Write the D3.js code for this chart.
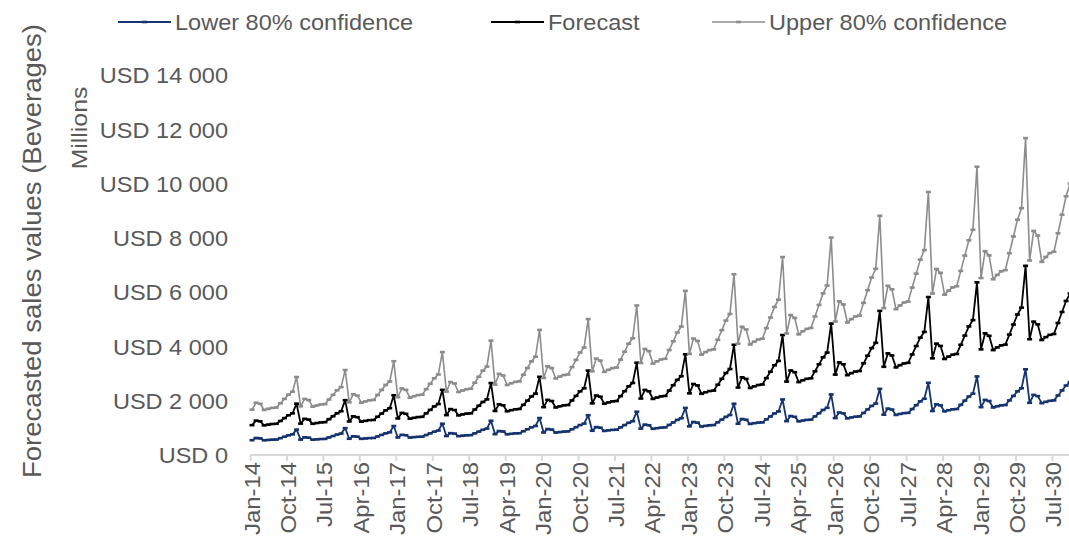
<!DOCTYPE html>
<html lang="en">
<head>
<meta charset="utf-8">
<title>Forecasted sales values (Beverages)</title>
<script src="https://d3js.org/d3.v7.min.js"></script>
<style>
  * { margin: 0; padding: 0; }
  body { background: #ffffff; width: 1069px; height: 539px; overflow: hidden; }
  svg text { font-family: "Liberation Sans", Arial, sans-serif; fill: #595959; }
</style>
</head>
<body>
<script>
// ---------- data (USD millions, monthly Jan-14 .. Dec-30) ----------
var seriesNames = ["Lower 80% confidence", "Forecast", "Upper 80% confidence"];

var lower = [
  545,627,614,541,554,565,569,621,673,724,760,936,
  567,653,639,563,577,588,592,646,700,754,791,990,
  599,691,676,595,610,622,627,683,740,797,836,1067,
  646,744,729,642,658,671,675,736,798,859,901,1152,
  699,805,789,694,712,726,731,797,863,930,975,1261,
  767,884,866,762,781,797,802,875,947,1020,1070,1362,
  830,957,937,825,845,862,868,947,1025,1104,1158,1465,
  893,1028,1007,886,908,926,933,1017,1102,1187,1245,1595,
  972,1119,1096,965,989,1009,1016,1108,1200,1293,1356,1733,
  1056,1216,1191,1049,1075,1096,1103,1204,1304,1404,1473,1888,
  1151,1326,1298,1143,1171,1194,1202,1312,1421,1530,1605,2046,
  1247,1436,1407,1238,1270,1294,1303,1422,1540,1659,1739,2231,
  1360,1566,1534,1350,1384,1411,1421,1550,1679,1808,1897,2437,
  1485,1711,1675,1475,1512,1542,1552,1693,1834,1976,2072,2660,
  1621,1867,1828,1609,1650,1682,1694,1848,2002,2155,2261,2894,
  1763,2031,1989,1751,1795,1830,1842,2010,2178,2345,2459,3157,
  1924,2216,2170,1910,1959,1997,2011,2193,2376,2559,2684,3437
];

var forecast = [
  1100,1267,1241,1092,1120,1142,1150,1254,1359,1463,1535,1890,
  1157,1333,1305,1149,1178,1201,1209,1319,1429,1539,1614,2020,
  1236,1424,1394,1227,1258,1283,1292,1409,1526,1644,1724,2200,
  1346,1551,1518,1337,1370,1397,1407,1534,1662,1790,1878,2400,
  1469,1692,1657,1459,1495,1525,1535,1675,1814,1954,2049,2650,
  1622,1869,1830,1611,1651,1684,1695,1849,2003,2157,2263,2880,
  1763,2031,1989,1751,1795,1830,1842,2010,2177,2345,2459,3110,
  1903,2192,2147,1890,1937,1975,1989,2169,2350,2531,2655,3400,
  2081,2397,2347,2066,2118,2160,2175,2372,2570,2768,2903,3710,
  2271,2616,2562,2255,2312,2357,2373,2589,2805,3020,3168,4060,
  2485,2863,2803,2468,2530,2579,2597,2833,3069,3305,3467,4420,
  2705,3116,3051,2686,2754,2808,2827,3084,3341,3598,3773,4840,
  2962,3412,3341,2941,3015,3075,3095,3377,3658,3939,4132,5310,
  3250,3744,3666,3227,3309,3374,3396,3705,4014,4323,4534,5820,
  3562,4103,4018,3537,3626,3697,3722,4061,4399,4737,4969,6360,
  3892,4484,4390,3865,3962,4040,4067,4437,4807,5176,5429,6970,
  4266,4914,4812,4236,4343,4428,4458,4863,5269,5674,5951,7620
];

var upper = [
  1672,1926,1886,1660,1702,1736,1748,1906,2066,2224,2333,2873,
  1793,2066,2023,1781,1826,1862,1874,2044,2215,2385,2502,3131,
  1941,2236,2189,1926,1975,2014,2028,2212,2396,2581,2707,3454,
  2127,2451,2398,2112,2165,2207,2223,2424,2626,2828,2967,3792,
  2336,2690,2635,2320,2377,2425,2441,2663,2884,3107,3258,4214,
  2595,2990,2928,2578,2642,2694,2712,2958,3205,3451,3621,4608,
  2838,3270,3202,2819,2890,2946,2966,3236,3505,3775,3959,5007,
  3083,3551,3478,3062,3138,3200,3222,3514,3807,4100,4301,5508,
  3392,3907,3826,3368,3452,3521,3545,3866,4189,4512,4732,6047,
  3724,4290,4202,3698,3792,3865,3892,4246,4600,4953,5196,6658,
  4100,4724,4625,4072,4175,4255,4285,4674,5064,5453,5721,7293,
  4477,5157,5049,4445,4558,4647,4679,5104,5529,5955,6244,8010,
  4917,5664,5546,4882,5005,5105,5138,5606,6072,6539,6859,8815,
  5411,6234,6104,5373,5509,5618,5654,6169,6683,7198,7549,9690,
  5949,6852,6710,5907,6055,6174,6216,6782,7346,7911,8298,10621,
  6519,7511,7353,6474,6636,6767,6812,7432,8052,8670,9094,11675,
  7167,8256,8084,7116,7296,7439,7489,8170,8852,9532,9998,12802
];

var tickLabels = ["Jan-14","Oct-14","Jul-15","Apr-16","Jan-17","Oct-17","Jul-18","Apr-19",
  "Jan-20","Oct-20","Jul-21","Apr-22","Jan-23","Oct-23","Jul-24","Apr-25",
  "Jan-26","Oct-26","Jul-27","Apr-28","Jan-29","Oct-29","Jul-30"];
var yTicks = [0,2000,4000,6000,8000,10000,12000,14000];

// ---------- setup ----------
var width = 1069, height = 539;
var colors = ["#15336f", "#000000", "#8c8c8c"];
var widths = [1.8, 1.8, 1.6];
var months = d3.timeMonth.range(new Date(2014,0,1), new Date(2031,0,1));
var n = months.length;
var step = 4.05;
var fmt = d3.formatLocale({decimal: ".", thousands: " ", grouping: [3], currency: ["", ""]}).format(",d");

var svg = d3.select("body").append("svg")
  .attr("width", width).attr("height", height);

var x = d3.scaleLinear().domain([0, n]).range([250, 250 + n * step]);
var y = d3.scaleLinear().domain([0, 14000]).range([455, 75]);

// y axis (labels only)
var yAxis = svg.append("g")
  .attr("transform", "translate(228,0)")
  .call(d3.axisLeft(y).tickValues(yTicks).tickSize(0).tickPadding(0)
    .tickFormat(function(d){ return "USD " + fmt(d); }));
yAxis.select(".domain").remove();
yAxis.selectAll("text")
  .attr("class", "st")
  .attr("data-k", 1.1)
  .attr("dy", "0.36em")
  .style("font-size", "21.4px")
  .style("font-family", null);

// x axis
var tickIdx = tickLabels.map(function(d, i){ return i * 9; });
var xAxis = svg.append("g")
  .attr("transform", "translate(0," + y(0) + ")")
  .call(d3.axisBottom(x).tickValues(tickIdx).tickSize(6).tickSizeOuter(0)
    .tickFormat(function(d, i){ return tickLabels[i]; }));
xAxis.select(".domain").attr("stroke", "#d9d9d9").attr("stroke-width", 2)
  .attr("d", "M250,0H" + width);
xAxis.selectAll(".tick line").attr("stroke", "#d9d9d9").attr("stroke-width", 2);
xAxis.selectAll("text")
  .attr("class", "st")
  .attr("data-k", 1.06)
  .attr("transform", "rotate(-90)")
  .attr("text-anchor", "end")
  .attr("x", -7)
  .attr("y", 0)
  .attr("dy", "0.4em")
  .style("font-size", "22.5px")
  .style("font-family", null);

// axis titles
svg.append("text")
  .attr("class", "st")
  .attr("data-k", 1.1)
  .attr("transform", "translate(41,251) rotate(-90)")
  .attr("text-anchor", "middle")
  .style("font-size", "25px")
  .text("Forecasted sales values (Beverages)");

svg.append("text")
  .attr("class", "st")
  .attr("data-k", 1.1)
  .attr("transform", "translate(87,128) rotate(-90)")
  .attr("text-anchor", "middle")
  .style("font-size", "22.5px")
  .text("Millions");

// ---------- series ----------
var allSeries = [lower, forecast, upper];
var line = d3.line()
  .x(function(d, i){ return x(i + 0.5); })
  .y(function(d){ return y(d); });

allSeries.forEach(function(s, k){
  var g = svg.append("g");
  g.append("path")
    .datum(s)
    .attr("fill", "none")
    .attr("stroke", colors[k])
    .attr("stroke-width", widths[k])
    .attr("stroke-linejoin", "round")
    .attr("d", line);
  g.selectAll("rect")
    .data(s)
    .enter()
    .append("rect")
    .attr("x", function(d, i){ return x(i + 0.5) - 2.5; })
    .attr("y", function(d){ return y(d) - 1.3; })
    .attr("width", 5)
    .attr("height", 2.6)
    .attr("fill", colors[k]);
});

// ---------- legend ----------
var legendX = [118, 491, 712];
seriesNames.forEach(function(name, k){
  var lg = svg.append("g").attr("transform", "translate(" + legendX[k] + ",22)");
  lg.append("line")
    .attr("x1", 0).attr("x2", 53).attr("y1", 0).attr("y2", 0)
    .attr("stroke", colors[k]).attr("stroke-width", widths[k]);
  lg.append("rect")
    .attr("x", 24).attr("y", -1.3).attr("width", 5).attr("height", 2.6)
    .attr("fill", colors[k]);
  lg.append("text")
    .attr("class", "st")
    .attr("data-k", 1.1)
    .attr("x", 57)
    .attr("dy", "0.36em")
    .style("font-size", "21.4px")
    .text(name);
});

// text in the reference is a little wider than Liberation Sans
svg.selectAll("text.st").each(function(){
  var k = +this.getAttribute("data-k");
  var len = this.getComputedTextLength();
  d3.select(this).attr("textLength", len * k).attr("lengthAdjust", "spacingAndGlyphs");
});
</script>
</body>
</html>
